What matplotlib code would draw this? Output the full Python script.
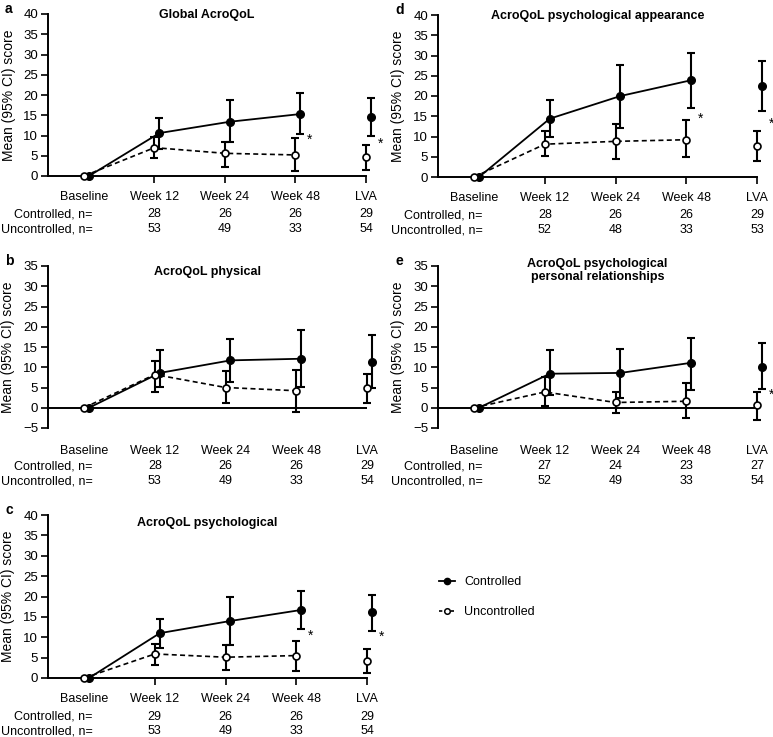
import matplotlib.pyplot as plt
from matplotlib.lines import Line2D
from matplotlib.transforms import blended_transform_factory

plt.rcParams['font.family'] = ['Liberation Sans', 'DejaVu Sans']
plt.rcParams['font.size'] = 9

timepoints = ["Baseline", "Week 12", "Week 24", "Week 48", "LVA"]

# a - Global AcroQoL
a_ctrl = [0, 10.6, 13.4, 15.3, 14.5]
a_ctrl_lo = [0, 6.7, 8.5, 10.3, 9.9]
a_ctrl_hi = [0, 14.4, 18.8, 20.4, 19.3]
a_unc = [0, 7.0, 5.6, 5.2, 4.6]
a_unc_lo = [0, 4.4, 2.3, 1.2, 1.6]
a_unc_hi = [0, 9.6, 8.5, 9.5, 7.7]
a_n_ctrl = [28, 26, 26, 29]
a_n_unc = [53, 49, 33, 54]
a_stars = [(3, 8.9), (4, 8.0)]

# b - AcroQoL physical
b_ctrl = [0, 8.6, 11.7, 12.1, 11.3]
b_ctrl_lo = [0, 5.2, 6.4, 5.2, 4.8]
b_ctrl_hi = [0, 14.3, 17.0, 19.3, 18.0]
b_unc = [0, 8.2, 5.0, 4.2, 4.8]
b_unc_lo = [0, 3.8, 1.2, -1.1, 1.2]
b_unc_hi = [0, 11.6, 9.0, 9.3, 8.4]
b_n_ctrl = [28, 26, 26, 29]
b_n_unc = [53, 49, 33, 54]
b_stars = []

# c - AcroQoL psychological
c_ctrl = [0, 11.0, 14.0, 16.7, 16.1]
c_ctrl_lo = [0, 7.3, 8.2, 12.1, 11.6]
c_ctrl_hi = [0, 14.5, 19.8, 21.4, 20.4]
c_unc = [0, 5.9, 5.1, 5.5, 4.2]
c_unc_lo = [0, 3.3, 2.0, 1.6, 1.2]
c_unc_hi = [0, 8.4, 8.2, 9.2, 7.1]
c_n_ctrl = [29, 26, 26, 29]
c_n_unc = [53, 49, 33, 54]
c_stars = [(3, 10.4), (4, 10.2)]

# d - AcroQoL psychological appearance
d_ctrl = [0, 14.4, 20.0, 23.9, 22.4]
d_ctrl_lo = [0, 9.9, 12.1, 17.1, 16.2]
d_ctrl_hi = [0, 19.0, 27.6, 30.7, 28.6]
d_unc = [0, 8.1, 8.8, 9.2, 7.7]
d_unc_lo = [0, 5.1, 4.5, 4.9, 4.0]
d_unc_hi = [0, 11.3, 13.2, 14.0, 11.4]
d_n_ctrl = [28, 26, 26, 29]
d_n_unc = [52, 48, 33, 53]
d_stars = [(3, 14.4), (4, 13.2)]

# e - AcroQoL psychological personal relationships
e_ctrl = [0, 8.4, 8.6, 11.1, 10.1]
e_ctrl_lo = [0, 3.1, 2.3, 4.3, 4.6]
e_ctrl_hi = [0, 14.3, 14.6, 17.2, 16.0]
e_unc = [0, 3.9, 1.3, 1.6, 0.8]
e_unc_lo = [0, 0.4, -1.4, -2.6, -3.0]
e_unc_hi = [0, 7.6, 3.9, 6.0, 3.9]
e_n_ctrl = [27, 24, 23, 27]
e_n_unc = [52, 49, 33, 54]
e_stars = [(4, 3.1)]

W, H = 773, 737
fig = plt.figure(figsize=(W / 100, H / 100), dpi=100)


def add_axes(left, right, top, bottom):
    return fig.add_axes([left / W, 1 - bottom / H, (right - left) / W, (bottom - top) / H])


def draw_panel(ax, letter, title, title_y, ylim, yticks, ctrl, clo, chi, unc, ulo, uhi, n_ctrl, n_unc, stars):
    x = list(range(len(timepoints)))
    off = 0.07
    xc = [v + off for v in x]

    # connecting lines (baseline to week 48), LVA stands alone
    ax.plot(x[:4], unc[:4], color='black', lw=1.2, ls=(0, (3, 2)), zorder=2, clip_on=False)
    ax.plot(xc[:4], ctrl[:4], color='black', lw=1.3, zorder=2, clip_on=False)

    # error bars (none at baseline)
    ax.errorbar(x[1:], unc[1:], yerr=[[m - l for m, l in zip(unc[1:], ulo[1:])],
                                       [h - m for m, h in zip(unc[1:], uhi[1:])]],
                fmt='none', ecolor='black', elinewidth=1.5, capsize=3, capthick=1.5, zorder=3, clip_on=False)
    ax.errorbar(xc[1:], ctrl[1:], yerr=[[m - l for m, l in zip(ctrl[1:], clo[1:])],
                                         [h - m for m, h in zip(ctrl[1:], chi[1:])]],
                fmt='none', ecolor='black', elinewidth=1.5, capsize=3, capthick=1.5, zorder=3, clip_on=False)

    ax.plot(x, unc, ls='none', marker='o', ms=5, mfc='white', mec='black', mew=1.2, zorder=5, clip_on=False)
    ax.plot(xc, ctrl, ls='none', marker='o', ms=5.5, mfc='black', mec='black', zorder=4, clip_on=False)

    for i, yv in stars:
        ax.text(i + 0.2, yv, '*', ha='center', va='center', fontsize=10, clip_on=False)

    ax.set_xlim(-0.51, 4)
    ax.set_ylim(*ylim)
    ax.set_yticks(yticks)
    ax.set_xticks(x)
    ax.set_xticklabels(timepoints)
    ax.spines['top'].set_visible(False)
    ax.spines['right'].set_visible(False)
    ax.spines['left'].set_linewidth(1.4)
    ax.tick_params(axis='y', length=5, width=1.2, pad=2, labelsize=9.5)
    if ylim[0] < 0:
        ax.spines['bottom'].set_visible(False)
        ax.axhline(0, color='black', lw=1.4, zorder=1)
        ax.tick_params(axis='x', length=0, pad=12, labelsize=9)
    else:
        ax.spines['bottom'].set_linewidth(1.4)
        ax.tick_params(axis='x', length=5, width=1.2, pad=6, labelsize=9)
        ax.xaxis.get_major_ticks()[0].tick1line.set_visible(False)
    ax.set_ylabel('Mean (95% CI) score', fontsize=10)
    ax.yaxis.set_label_coords(-0.102, 0.5)

    ax.text(0.5, title_y, title, transform=ax.transAxes, ha='center', va='top',
            fontweight='bold', fontsize=9, linespacing=1.15)

    tr = blended_transform_factory(ax.transData, ax.transAxes)
    ax.text(0.12, -0.237, 'Controlled, n=', transform=tr, ha='right', va='center', fontsize=9)
    ax.text(0.12, -0.328, 'Uncontrolled, n=', transform=tr, ha='right', va='center', fontsize=9)
    for i, (nc, nu) in enumerate(zip(n_ctrl, n_unc)):
        ax.text(i + 1, -0.237, str(nc), transform=tr, ha='center', va='center', fontsize=9)
        ax.text(i + 1, -0.328, str(nu), transform=tr, ha='center', va='center', fontsize=9)

    bb = ax.get_position()
    fig.text(bb.x0 - 43 / W, bb.y1 + 5 / H, letter, fontweight='bold', fontsize=10, va='center', ha='left')


ax_a = add_axes(48, 366, 14, 176)
ax_b = add_axes(48, 367, 266, 428)
ax_c = add_axes(48, 367, 515, 678)
ax_d = add_axes(438, 757, 15, 177)
ax_e = add_axes(438, 757, 266, 428)

pos_ticks = [0, 5, 10, 15, 20, 25, 30, 35, 40]
neg_ticks = [-5, 0, 5, 10, 15, 20, 25, 30, 35]

draw_panel(ax_a, 'a', 'Global AcroQoL', 1.03, (0, 40), pos_ticks,
           a_ctrl, a_ctrl_lo, a_ctrl_hi, a_unc, a_unc_lo, a_unc_hi, a_n_ctrl, a_n_unc, a_stars)
draw_panel(ax_b, 'b', 'AcroQoL physical', 1.0, (-5, 35), neg_ticks,
           b_ctrl, b_ctrl_lo, b_ctrl_hi, b_unc, b_unc_lo, b_unc_hi, b_n_ctrl, b_n_unc, b_stars)
draw_panel(ax_c, 'c', 'AcroQoL psychological', 0.99, (0, 40), pos_ticks,
           c_ctrl, c_ctrl_lo, c_ctrl_hi, c_unc, c_unc_lo, c_unc_hi, c_n_ctrl, c_n_unc, c_stars)
draw_panel(ax_d, 'd', 'AcroQoL psychological appearance', 1.03, (0, 40), pos_ticks,
           d_ctrl, d_ctrl_lo, d_ctrl_hi, d_unc, d_unc_lo, d_unc_hi, d_n_ctrl, d_n_unc, d_stars)
draw_panel(ax_e, 'e', 'AcroQoL psychological\npersonal relationships', 1.05, (-5, 35), neg_ticks,
           e_ctrl, e_ctrl_lo, e_ctrl_hi, e_unc, e_unc_lo, e_unc_hi, e_n_ctrl, e_n_unc, e_stars)

handles = [
    Line2D([], [], color='black', lw=1.3, marker='o', ms=4.5, mfc='black'),
    Line2D([], [], color='black', lw=1.2, ls=(0, (2, 1.5)), marker='o', ms=4, mfc='white', mew=1.1),
]
fig.legend(handles, ['Controlled', 'Uncontrolled'], loc='upper left',
           bbox_to_anchor=(439 / W, 1 - 576 / H), frameon=False, fontsize=9,
           handlelength=1.3, handletextpad=0.7, labelspacing=1.45, borderpad=0, borderaxespad=0)

fig.savefig('out.png', dpi=100)
